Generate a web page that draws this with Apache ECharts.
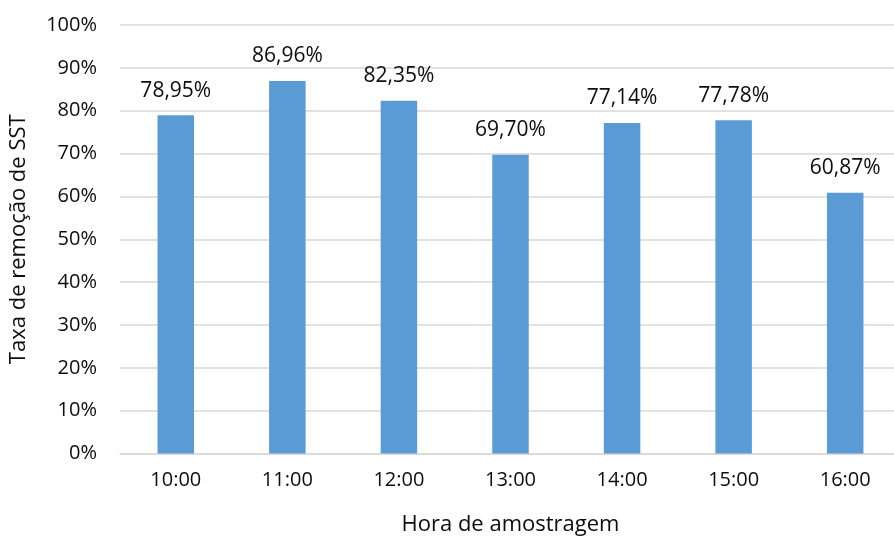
<!DOCTYPE html>
<html>
<head>
<meta charset="utf-8">
<script src="https://cdn.jsdelivr.net/npm/echarts@6/dist/echarts.min.js"></script>
<style>
  html, body { margin: 0; padding: 0; background: #fff; }
  #chart { width: 894px; height: 536px; }
</style>
</head>
<body>
<div id="chart"></div>
<script>
// Removal rate of suspended solids by sampling hour
const horas = ['10:00', '11:00', '12:00', '13:00', '14:00', '15:00', '16:00'];
const taxaRemocao = [78.95, 86.96, 82.35, 69.70, 77.14, 77.78, 60.87];
const yTicks = [0, 10, 20, 30, 40, 50, 60, 70, 80, 90, 100];

const FONT = '"Open Sans", "Liberation Sans", sans-serif';
const fmtPct = v => v.toFixed(2).replace('.', ',') + '%';

const chart = echarts.init(document.getElementById('chart'), null, { renderer: 'canvas' });
chart.setOption({
  animation: false,
  backgroundColor: '#ffffff',
  grid: {
    left: 120, right: -7, top: 25, bottom: 82.5,
    containLabel: false, outerBoundsMode: 'none'
  },
  xAxis: {
    type: 'category',
    data: horas,
    name: 'Hora de amostragem',
    nameLocation: 'middle',
    nameGap: 60,
    nameTextStyle: { fontFamily: FONT, fontSize: 22, color: '#0d0d0d' },
    axisLine: { show: true, lineStyle: { color: '#d9d9d9', width: 1.5 } },
    axisTick: { show: false },
    axisLabel: { fontFamily: FONT, fontSize: 20, color: '#0d0d0d', margin: 17 }
  },
  yAxis: {
    type: 'value',
    min: yTicks[0],
    max: yTicks[yTicks.length - 1],
    interval: 10,
    name: 'Taxa de remoção de SST',
    nameLocation: 'middle',
    nameGap: 90,
    nameTextStyle: { fontFamily: FONT, fontSize: 22, color: '#0d0d0d' },
    axisLine: { show: false },
    axisTick: { show: false },
    axisLabel: {
      fontFamily: FONT, fontSize: 20, color: '#0d0d0d', margin: 23,
      formatter: v => v + '%'
    },
    splitLine: { show: true, lineStyle: { color: '#d9d9d9', width: 1.5 } }
  },
  series: [{
    type: 'bar',
    data: taxaRemocao,
    barWidth: 36.5,
    itemStyle: { color: '#5b9bd5' },
    label: {
      show: true,
      position: 'top',
      distance: 14,
      fontFamily: FONT,
      fontSize: 21,
      color: '#0d0d0d',
      formatter: p => fmtPct(p.value)
    }
  }]
});
</script>
</body>
</html>
